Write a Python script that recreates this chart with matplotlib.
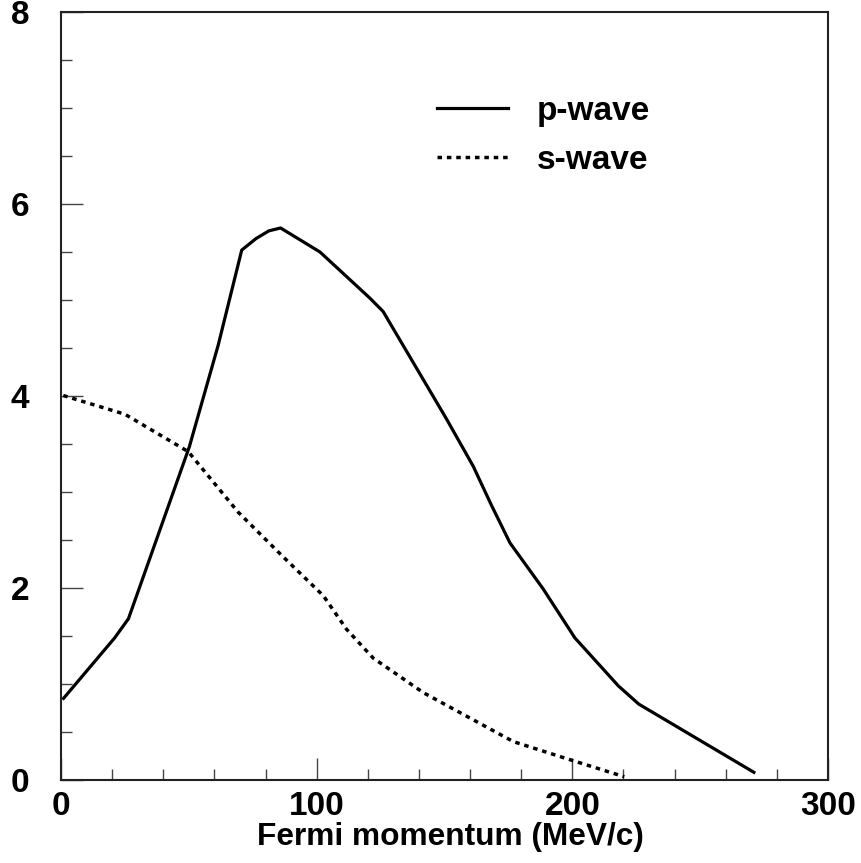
import matplotlib
matplotlib.use("Agg")
import matplotlib.pyplot as plt
from matplotlib.ticker import MultipleLocator

plt.rcParams['font.family'] = ['Liberation Sans', 'DejaVu Sans']
plt.rcParams['font.weight'] = 'bold'

# p-wave curve
p_x = [1, 21, 26.4, 50.2, 61.5, 70.7, 76.3, 81.3, 85.9, 101.3, 120.8, 126,
       150.8, 161.2, 168.4, 175.6, 188.6, 201, 218, 226, 271]
p_y = [0.85, 1.48, 1.68, 3.47, 4.53, 5.52, 5.64, 5.72, 5.75, 5.50, 5.02, 4.88,
       3.76, 3.27, 2.86, 2.47, 1.99, 1.48, 0.98, 0.79, 0.08]

# s-wave curve
s_x = [0.9, 25, 49.8, 69.3, 86.3, 102.6, 111.7, 122.1, 141.7, 176.9, 200.4, 220.3]
s_y = [4.005, 3.81, 3.42, 2.79, 2.34, 1.92, 1.57, 1.27, 0.91, 0.40, 0.20, 0.034]

fig = plt.figure(figsize=(8.61, 8.63), dpi=100)
ax = fig.add_axes([0.0708, 0.0962, 0.8909, 0.8899])

ax.plot(p_x, p_y, color='black', lw=2.3, label='p-wave')
ax.plot(s_x, s_y, color='black', lw=2.5, linestyle=(0, (1.3, 1.4)), label='s-wave')

ax.set_xlim(0, 300)
ax.set_ylim(0, 8)
ax.xaxis.set_major_locator(MultipleLocator(100))
ax.xaxis.set_minor_locator(MultipleLocator(20))
ax.yaxis.set_major_locator(MultipleLocator(2))
ax.yaxis.set_minor_locator(MultipleLocator(0.5))

ax.tick_params(which='both', direction='in', color='#444444', width=1.0)
ax.tick_params(which='major', length=16)
ax.tick_params(which='minor', length=8)
ax.tick_params(axis='y', which='major', pad=23, labelsize=24)
ax.tick_params(axis='x', which='major', pad=8, labelsize=24)
for lab in ax.get_xticklabels() + ax.get_yticklabels():
    lab.set_fontweight('bold')

for sp in ax.spines.values():
    sp.set_linewidth(1.5)
    sp.set_color('#222222')

ax.set_xlabel('Fermi momentum (MeV/c)', fontsize=22.8, fontweight='bold')
ax.xaxis.set_label_coords(0.508, -0.055)
ax.xaxis.label.set_verticalalignment('top')

ax.legend(loc='upper left', bbox_to_anchor=(0.49, 0.891), frameon=False,
          fontsize=24, handlelength=2.15, handletextpad=0.85, labelspacing=0.55,
          borderpad=0, borderaxespad=0)

fig.savefig('out.png', dpi=100)
